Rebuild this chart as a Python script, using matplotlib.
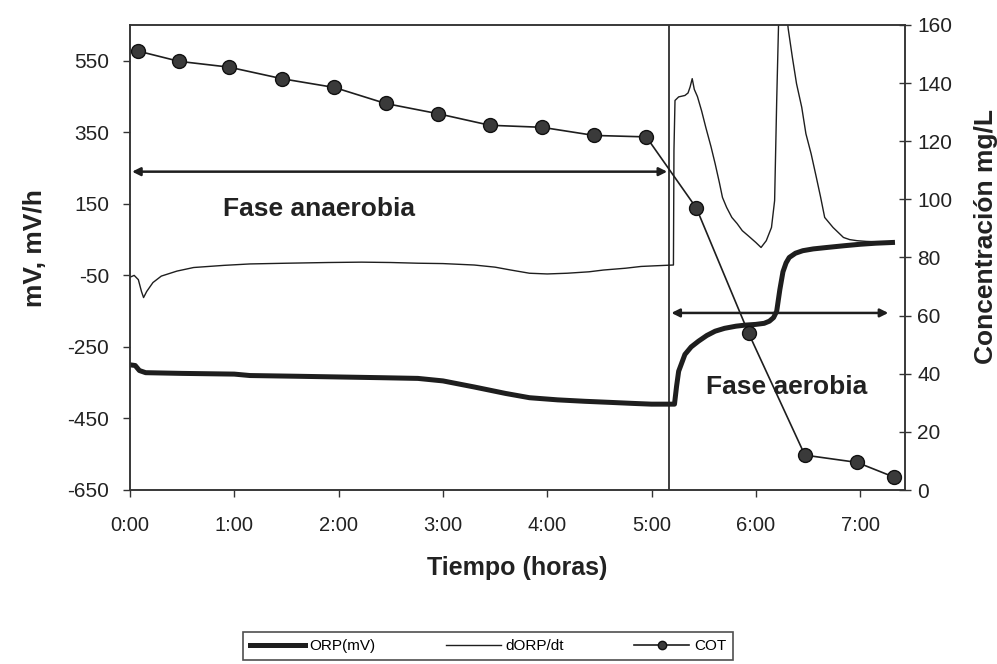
import matplotlib
matplotlib.use("Agg")
import matplotlib.pyplot as plt
from matplotlib.lines import Line2D

plt.rcParams['font.family'] = ['Liberation Sans', 'DejaVu Sans']
plt.rcParams['axes.unicode_minus'] = False

# ---- data ----
orp_t = [0.0, 0.05, 0.09, 0.15, 0.5, 1.0, 1.15, 1.6, 2.0, 2.4, 2.76, 3.0, 3.3, 3.6, 3.83, 4.1,
         4.36, 4.6, 4.83, 5.0, 5.22, 5.24, 5.26, 5.32, 5.38, 5.45, 5.53, 5.61, 5.7, 5.81, 5.9,
         6.0, 6.08, 6.13, 6.17, 6.2, 6.23, 6.26, 6.29, 6.32, 6.38, 6.45, 6.55, 6.68, 6.85, 7.0,
         7.15, 7.31]
orp_v = [-300, -302, -316, -322, -324, -326, -330, -332, -334, -336, -338, -345, -362, -380,
         -392, -398, -402, -405, -408, -410, -410, -360, -318, -271, -250, -234, -218, -206,
         -198, -192, -189, -187, -184, -178, -168, -150, -90, -40, -15, 0, 12, 19, 24, 28, 33,
         37, 40, 42]

dorp_t = [0.0, 0.04, 0.08, 0.11, 0.13, 0.16, 0.22, 0.3, 0.45, 0.61, 0.9, 1.15, 1.5, 1.9, 2.22,
          2.5, 2.76, 3.0, 3.3, 3.5, 3.65, 3.83, 4.0, 4.19, 4.4, 4.54, 4.75, 4.9, 5.05, 5.21,
          5.215, 5.225, 5.26, 5.32, 5.35, 5.37, 5.39, 5.41, 5.44, 5.48, 5.52, 5.57, 5.61, 5.65,
          5.68, 5.72, 5.77, 5.82, 5.87, 5.93, 6.0, 6.05, 6.1, 6.15, 6.18, 6.2, 6.22, 6.25, 6.29,
          6.31, 6.35, 6.39, 6.44, 6.48, 6.53, 6.58, 6.62, 6.66, 6.7, 6.74, 6.79, 6.84, 6.9,
          6.97, 7.06, 7.16, 7.25, 7.31]
dorp_v = [-55, -50, -62, -95, -112, -95, -70, -52, -38, -28, -22, -18, -16, -14, -13, -14, -16,
          -17, -21, -27, -35, -44, -46, -44, -40, -35, -30, -25, -23, -21, 300, 439, 449, 453,
          460, 477, 500, 470, 450, 410, 364, 310, 262, 210, 168, 140, 112, 95, 75, 60, 42, 28,
          47, 84, 159, 439, 680, 760, 700, 640, 560, 486, 420, 346, 290, 224, 170, 112, 98, 84,
          70, 56, 50, 47, 45, 44, 43, 42]

cot_t = [0.08, 0.47, 0.95, 1.46, 1.96, 2.45, 2.95, 3.45, 3.95, 4.45, 4.95, 5.43, 5.93, 6.47,
         6.97, 7.32]
cot_c = [151, 147.5, 145.5, 141.5, 138.5, 133, 129.5, 125.5, 124.8, 122, 121.5, 97, 54, 12,
         9.5, 4.5]

x_ticks = [0, 1, 2, 3, 4, 5, 6, 7]
x_ticklabels = ["0:00", "1:00", "2:00", "3:00", "4:00", "5:00", "6:00", "7:00"]
left_ticks = [-650, -450, -250, -50, 150, 350, 550]
right_ticks = [0, 20, 40, 60, 80, 100, 120, 140, 160]

phase_change = 5.17
anaer_arrow_y = 240
aer_arrow_y = -155

# ---- figure ----
W, H = 997, 664
fig = plt.figure(figsize=(W / 100, H / 100), dpi=100)
ax = fig.add_axes([130 / W, 1 - 490 / H, (905 - 130) / W, (490 - 25) / H])
ax2 = ax.twinx()

col = '#1e1e1e'
tcol = '#222222'
ax.plot(orp_t, orp_v, color=col, lw=3.6, solid_joinstyle='round', zorder=3)
ax.plot(dorp_t, dorp_v, color=col, lw=1.0, zorder=3)
ax2.plot(cot_t, cot_c, color=col, lw=1.2, marker='o', markersize=10,
         markerfacecolor='#3a3a3a', markeredgecolor='#111111', zorder=4)

ax.set_xlim(0, 7.43)
ax.set_ylim(-650, 650)
ax2.set_ylim(0, 160)

ax.set_xticks(x_ticks)
ax.set_xticklabels(x_ticklabels)
ax.set_yticks(left_ticks)
ax2.set_yticks(right_ticks)

for a in (ax, ax2):
    for s in a.spines.values():
        s.set_color('#333333')
        s.set_linewidth(1.1)

ax.tick_params(axis='x', direction='out', length=5, width=1, colors='#333333',
               labelsize=14.5, labelcolor=tcol, pad=14)
ax.tick_params(axis='y', direction='out', length=5, width=1, colors='#333333',
               labelsize=15, labelcolor=tcol, pad=10)
ax2.tick_params(axis='y', direction='inout', length=8, width=1, colors='#333333',
                labelsize=15, labelcolor=tcol, pad=5)

# vertical separator
ax.axvline(phase_change, color=col, lw=1.2, zorder=2)

# phase arrows
ax.annotate('', xy=(0.02, anaer_arrow_y), xytext=(phase_change - 0.02, anaer_arrow_y),
            arrowprops=dict(arrowstyle='<|-|>', color=col, lw=1.8, mutation_scale=12,
                            shrinkA=0, shrinkB=0))
ax.annotate('', xy=(phase_change + 0.02, aer_arrow_y), xytext=(7.27, aer_arrow_y),
            arrowprops=dict(arrowstyle='<|-|>', color=col, lw=1.8, mutation_scale=12,
                            shrinkA=0, shrinkB=0))

ax.text(0.89, 136, 'Fase anaerobia', fontsize=19, fontweight='bold', color=tcol,
        va='center', ha='left')
ax.text(5.52, -362, 'Fase aerobia', fontsize=19, fontweight='bold', color=tcol,
        va='center', ha='left', zorder=5)

ax.set_xlabel('Tiempo (horas)', fontsize=18, fontweight='bold', color=tcol, labelpad=15)
ax.set_ylabel('mV, mV/h', fontsize=19, fontweight='bold', color=tcol)
ax2.set_ylabel('Concentración mg/L', fontsize=19, fontweight='bold', color=tcol)
ax.yaxis.set_label_coords((47 - 130) / 775, 0.52)
ax2.yaxis.set_label_coords((974 - 130) / 775, 0.545)

handles = [Line2D([], [], color=col, lw=3.6),
           Line2D([], [], color=col, lw=1.0),
           Line2D([], [], color=col, lw=1.2, marker='o', markersize=6,
                  markerfacecolor='#3a3a3a', markeredgecolor='#111111')]
leg = fig.legend(handles, ['ORP(mV)', 'dORP/dt', 'COT'], loc='upper left',
                 bbox_to_anchor=(243 / W, 1 - 632 / H),
                 ncol=3, frameon=True, fancybox=False, fontsize=11,
                 handlelength=3.6, handletextpad=0.3, columnspacing=4.6,
                 borderpad=0.45, borderaxespad=0)
leg.get_frame().set_edgecolor('#222222')
leg.get_frame().set_linewidth(1.2)

fig.savefig('out.png', dpi=100)
